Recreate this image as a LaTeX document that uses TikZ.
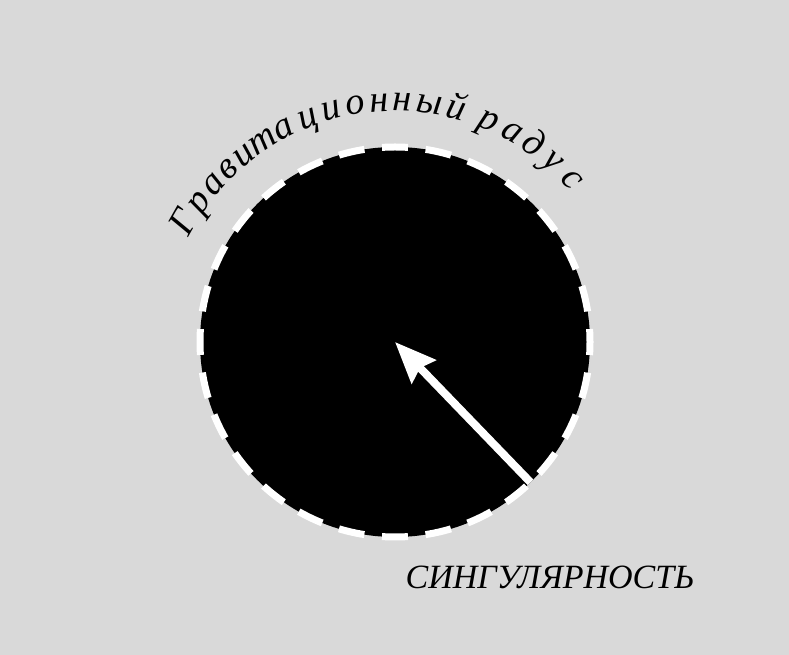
\documentclass[tikz,border=0pt]{standalone}
\usepackage{fontspec}
\setmainfont{Liberation Serif}
\usetikzlibrary{arrows.meta}
\definecolor{bg}{HTML}{D9D9D9}
\tikzset{
  hole/.style={circle, minimum size=390pt, inner sep=0pt, outer sep=0pt,
    fill=black, draw=white, line width=7pt,
    dash pattern=on 26pt off 17.76pt, dash phase=13pt},
  arcletter/.style={anchor=base, inner sep=0pt, font=\itshape\fontsize{38}{42}\selectfont},
  pointer/.style={draw=white, line width=8pt, -{Stealth[length=41pt,width=33pt,inset=5pt]}},
  label/.style={anchor=base, inner sep=0pt, font=\itshape\fontsize{34}{40}\selectfont}
}
\begin{document}
\begin{tikzpicture}[x=1pt,y=1pt]
\fill[bg] (0,0) rectangle (789,655);
\useasboundingbox (0,0) rectangle (789,655);
\node[hole] (bh) at (395,313) {};
\draw[pointer] (bh.-46.5) -- (bh.center);
\foreach \a/\l [count=\i] in {150.5/Г,144.5/р,139/а,134/в,129/и,123.3/т,117.5/а,111.3/ц,105.3/и,99.4/о,93.8/н,88.3/н,81.8/ы,75.3/й,66.9/р,60.7/а,55/д,49/у,42.6/с}
  \node[arcletter, rotate=\a-90] (g\i) at ([shift={(\a:231pt)}]bh.center) {\l};
\node[label] (sing) at (550,66) {СИНГУЛЯРНОСТЬ};
\end{tikzpicture}
\end{document}
